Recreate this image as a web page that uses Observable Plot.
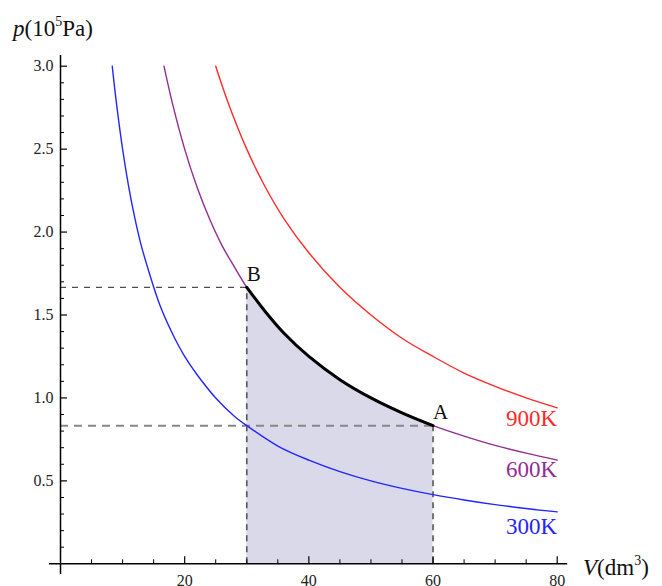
<!DOCTYPE html>
<html><head><meta charset="utf-8">
<script src="https://cdn.jsdelivr.net/npm/d3@7"></script>
<script src="https://cdn.jsdelivr.net/npm/@observablehq/plot@0.6"></script>
<style>body{margin:0;background:#fff}</style>
</head><body><div id="chart"></div>
<script>
// Isotherm readings (V in dm³, p in 10^5 Pa)
const v300 = [8.33, 9, 10, 11, 12, 13, 14, 16, 18, 20, 22, 25, 28, 30, 35, 40, 45, 50, 55, 60, 65, 70, 75, 80];
const p300 = [3.0, 2.78, 2.5, 2.27, 2.08, 1.92, 1.79, 1.56, 1.39, 1.25, 1.14, 1.0, 0.89, 0.833, 0.71, 0.625, 0.556, 0.5, 0.455, 0.417, 0.385, 0.357, 0.333, 0.313];
const v600 = [16.67, 18, 20, 22, 24, 26, 28, 30, 33, 36, 40, 45, 50, 55, 60, 65, 70, 75, 80];
const p600 = [3.0, 2.78, 2.5, 2.27, 2.08, 1.92, 1.79, 1.667, 1.52, 1.39, 1.25, 1.11, 1.0, 0.91, 0.833, 0.77, 0.714, 0.667, 0.625];
const v900 = [25, 27, 30, 33, 36, 40, 45, 50, 55, 60, 65, 70, 75, 80];
const p900 = [3.0, 2.78, 2.5, 2.27, 2.08, 1.875, 1.667, 1.5, 1.36, 1.25, 1.15, 1.07, 1.0, 0.94];

const seriesNames = ["300K", "600K", "900K"];
const seriesColors = ["#2424ff", "#932c93", "#ff2a2a"];
const labelP = [0.225, 0.565, 0.875];

// States
const stateNames = ["A", "B"];
const stateV = [60, 30];
const stateP = [0.833, 1.667];

// Ticks
const xMajor = [20, 40, 60, 80];
const xMinor = [5, 10, 15, 25, 30, 35, 45, 50, 55, 65, 70, 75];
const yMajor = [0.5, 1.0, 1.5, 2.0, 2.5, 3.0];
const yMinor = [0.1, 0.2, 0.3, 0.4, 0.6, 0.7, 0.8, 0.9, 1.1, 1.2, 1.3, 1.4, 1.6, 1.7, 1.8, 1.9, 2.1, 2.2, 2.3, 2.4, 2.6, 2.7, 2.8, 2.9];

const serif = "'Liberation Serif', 'Times New Roman', serif";

const curves = [
  v300.map((V, i) => ({V, p: p300[i], s: "300K"})),
  v600.map((V, i) => ({V, p: p600[i], s: "600K"})),
  v900.map((V, i) => ({V, p: p900[i], s: "900K"}))
];
const allPts = curves.flat();
const process = curves[1].filter(d => d.V >= stateV[1] && d.V <= stateV[0]);
const ends = curves.map((c, i) => ({V: c[c.length - 1].V, p: labelP[i], s: seriesNames[i]}));
const states = stateNames.map((n, i) => ({n, V: stateV[i], p: stateP[i]}));
const fmt = d => d.toFixed(1);

const chart = Plot.plot({
  width: 662, height: 586,
  marginLeft: 60, marginRight: 105.3, marginTop: 65.7, marginBottom: 22.7,
  x: {domain: [0, 80], label: null},
  y: {domain: [0, 3], label: null},
  color: {domain: seriesNames, range: seriesColors},
  style: {fontFamily: serif, color: "#222", background: "white"},
  marks: [
    Plot.areaY(process, {x: "V", y: "p", fill: "#d9d9ea", curve: "catmull-rom"}),
    Plot.ruleX(states, {x: "V", y1: 0, y2: "p", stroke: "#555", strokeWidth: 1.6, strokeDasharray: "6,5"}),
    Plot.ruleY([states[0]], {y: "p", x1: 0, x2: "V", stroke: "#888", strokeWidth: 2, strokeDasharray: "8,6"}),
    Plot.ruleY([states[1]], {y: "p", x1: 0, x2: "V", stroke: "#222", strokeWidth: 1, strokeDasharray: "6,6"}),
    Plot.line(allPts, {x: "V", y: "p", z: "s", stroke: "s", strokeWidth: 1.4, curve: "catmull-rom"}),
    Plot.line(process, {x: "V", y: "p", stroke: "black", strokeWidth: 3, curve: "catmull-rom"}),
    Plot.ruleY([0], {stroke: "black", strokeWidth: 1.5, insetLeft: -11, insetRight: -10.5}),
    Plot.ruleX([0], {stroke: "black", strokeWidth: 1.5, insetTop: -10.7, insetBottom: -10.7}),
    Plot.axisX({ticks: xMajor, tickSize: -7, text: null, label: null, stroke: "black", strokeWidth: 1.2}),
    Plot.axisX({ticks: xMinor, tickSize: -4, text: null, label: null, stroke: "black", strokeWidth: 1}),
    Plot.axisX({ticks: xMajor, tickSize: 0, tickPadding: 11, fontSize: 16, fontFamily: serif, fill: "#222", label: null}),
    Plot.axisY({ticks: yMajor, tickSize: -7, text: null, label: null, stroke: "black", strokeWidth: 1.2}),
    Plot.axisY({ticks: yMinor, tickSize: -4, text: null, label: null, stroke: "black", strokeWidth: 1}),
    Plot.axisY({ticks: yMajor, tickSize: 0, tickPadding: 7, fontSize: 16, fontFamily: serif, fill: "#222", tickFormat: fmt, label: null}),
    Plot.text(ends, {x: "V", y: "p", text: "s", fill: "s", textAnchor: "end", fontSize: 23, fontFamily: serif}),
    Plot.text(states, {x: "V", y: "p", text: "n", textAnchor: "start", dx: 0, dy: -13, fontSize: 21, fontFamily: serif, fill: "#111"})
  ]
});

const svg = d3.select(chart);
svg.selectAll("text").attr("font-family", serif).style("font-family", serif).style("font-variant", "normal");
const t1 = svg.append("text").attr("x", 13).attr("y", 36).attr("text-anchor", "start").attr("font-family", serif).attr("font-size", 23).attr("fill", "#111");
t1.append("tspan").attr("font-style", "italic").text("p");
t1.append("tspan").text("(10");
t1.append("tspan").attr("font-size", 14).attr("dy", -10).text("5");
t1.append("tspan").attr("dy", 10).text("Pa)");
const t2 = svg.append("text").attr("x", 583).attr("y", 575).attr("text-anchor", "start").attr("font-family", serif).attr("font-size", 23).attr("fill", "#111");
t2.append("tspan").attr("font-style", "italic").text("V");
t2.append("tspan").text("(dm");
t2.append("tspan").attr("font-size", 14).attr("dy", -10).text("3");
t2.append("tspan").attr("dy", 10).text(")");

document.getElementById("chart").appendChild(chart);
</script>
</body></html>
